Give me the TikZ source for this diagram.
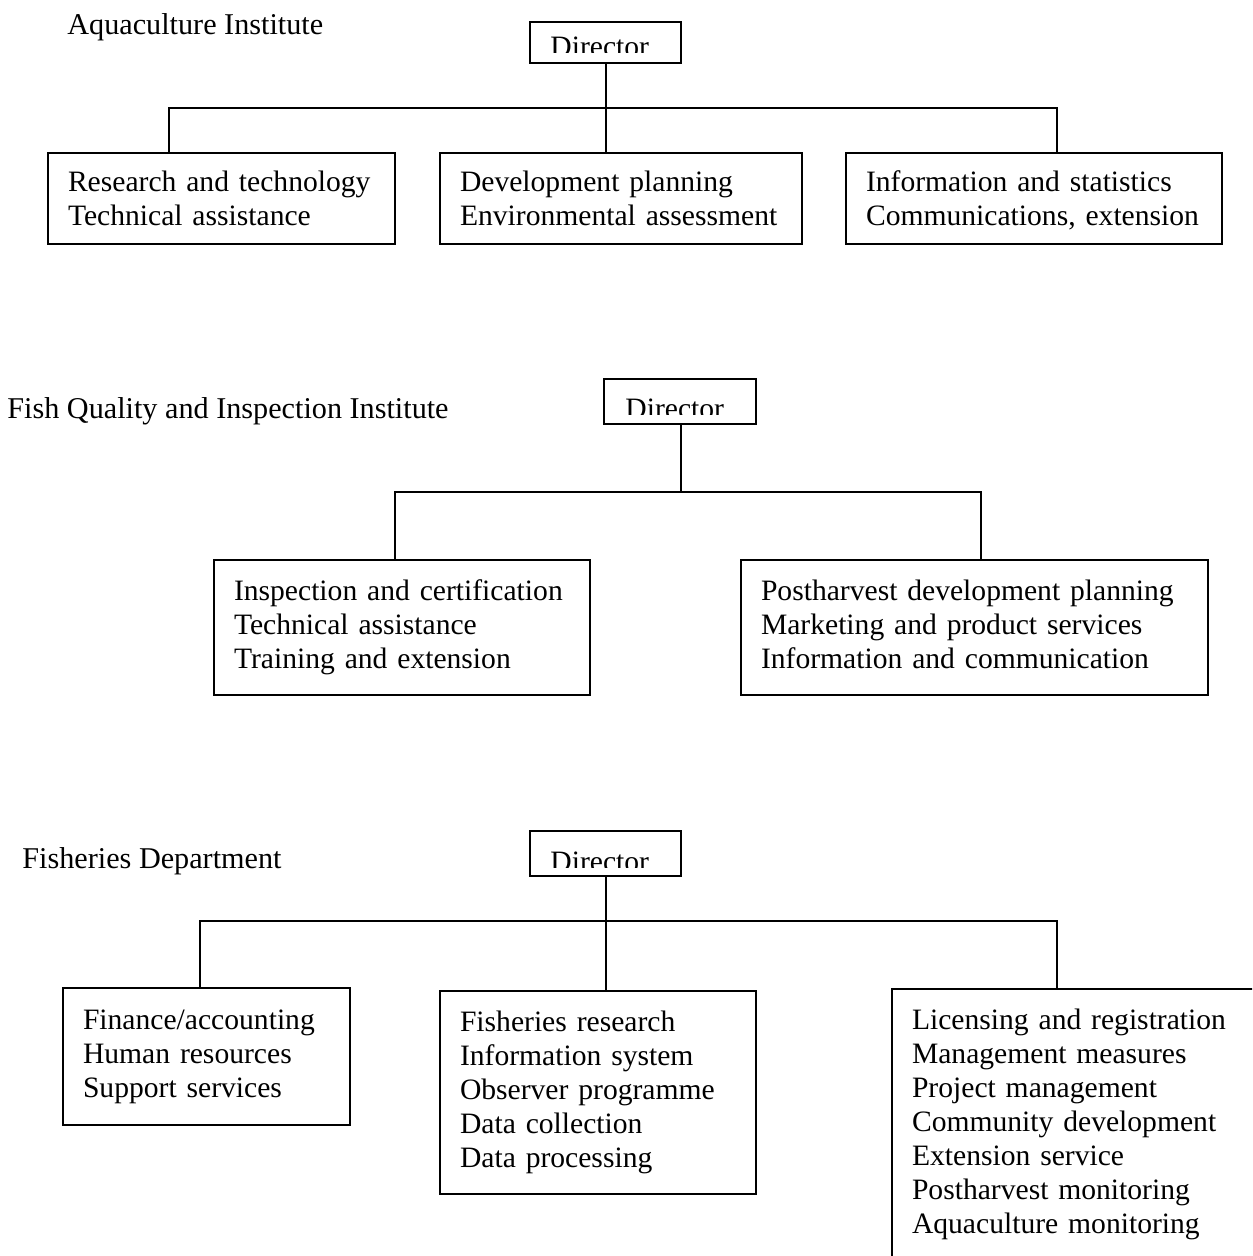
\documentclass[tikz,border=0pt]{standalone}
\usepackage{fontspec}
\setmainfont{Liberation Serif}
\newcommand{\linesof}[1]{\begin{tabular}{@{}l@{}}#1\end{tabular}}
\newcommand{\lowered}[2][-1.8pt]{\raisebox{#1}[\height][\depth]{#2}}
\begin{document}
\begin{tikzpicture}[x=0.5pt,y=-0.5pt,
  every node/.style={font=\fontsize{14.8pt}{17pt}\selectfont},
  unit/.style={draw, line width=0.9pt, inner xsep=10pt, inner ysep=0pt, anchor=center},
  headbox/.style={draw, line width=0.9pt, inner sep=0pt, anchor=center},
  title/.style={anchor=base west, inner sep=0pt, font=\fontsize{15.1pt}{17pt}\selectfont},
  head/.style={anchor=base west, inner sep=0pt},
  link/.style={line width=0.9pt}]
\useasboundingbox (0,0) rectangle (1252,1256);
\clip (0,0) rectangle (1252,1256);

% ---------- Aquaculture Institute ----------
\node[title] (t1) at (67,35) {Aquaculture Institute};
\node[headbox, minimum width=75.5pt, minimum height=20.5pt] (d1) at (605.5,42.5) {};
\begin{scope}
  \clip (530,22) rectangle (681,53);
  \node[head] (d1t) at (550,57) {Director};
\end{scope}
\node[unit, text width=153.5pt, minimum height=45.5pt] (a1) at (221.5,198.5)
  {\lowered{\linesof{Research and technology\\Technical assistance}}};
\node[unit, text width=161pt, minimum height=45.5pt] (a2) at (621,198.5)
  {\lowered{\linesof{Development planning\\Environmental assessment}}};
\node[unit, text width=168pt, minimum height=45.5pt] (a3) at (1034,198.5)
  {\lowered{\linesof{Information and statistics\\Communications, extension}}};
\coordinate (j1) at (606,108);
\coordinate (j1l) at (169,108);
\coordinate (j1r) at (1057,108);
\draw[link] (d1.south -| j1) -- (j1 |- a2.north);
\draw[link] (j1l |- a1.north) -- (j1l) -- (j1r) -- (j1r |- a3.north);

% ---------- Fish Quality and Inspection Institute ----------
\node[title] (t2) at (7,418) {Fish Quality and Inspection Institute};
\node[headbox, minimum width=76pt, minimum height=22.5pt] (d2) at (680,401.5) {};
\begin{scope}
  \clip (604,379) rectangle (756,415);
  \node[head] (d2t) at (625,419) {Director};
\end{scope}
\node[unit, text width=168pt, minimum height=67.5pt] (q1) at (402,627.5)
  {\linesof{Inspection and certification\\Technical assistance\\Training and extension}};
\node[unit, text width=213.5pt, minimum height=67.5pt] (q2) at (974.5,627.5)
  {\linesof{Postharvest development planning\\Marketing and product services\\Information and communication}};
\coordinate (j2) at (681,492);
\coordinate (j2l) at (395,492);
\coordinate (j2r) at (981,492);
\draw[link] (d2.south -| j2) -- (j2);
\draw[link] (j2l |- q1.north) -- (j2l) -- (j2r) -- (j2r |- q2.north);

% ---------- Fisheries Department ----------
\node[title] (t3) at (22,868) {Fisheries Department};
\node[headbox, minimum width=75.5pt, minimum height=22.5pt] (d3) at (605.5,853.5) {};
\begin{scope}
  \clip (530,831) rectangle (681,867);
  \node[head] (d3t) at (550,871) {Director};
\end{scope}
\node[unit, text width=123.5pt, minimum height=68.5pt] (f1) at (206.5,1056.5)
  {\linesof{Finance/accounting\\Human resources\\Support services}};
\node[unit, text width=138pt, minimum height=101.5pt] (f2) at (598,1092.5)
  {\linesof{Fisheries research\\Information system\\Observer programme\\Data collection\\Data processing}};
\node[unit, text width=165pt, minimum height=138pt] (f3) at (1077,1127)
  {\lowered[1.2pt]{\linesof{Licensing and registration\\Management measures\\Project management\\Community development\\Extension service\\Postharvest monitoring\\Aquaculture monitoring}}};
\coordinate (j3) at (606,921);
\coordinate (j3l) at (200,921);
\coordinate (j3r) at (1057,921);
\draw[link] (d3.south -| j3) -- (j3 |- f2.north);
\draw[link] (j3l |- f1.north) -- (j3l) -- (j3r) -- (j3r |- f3.north);
\end{tikzpicture}
\end{document}
